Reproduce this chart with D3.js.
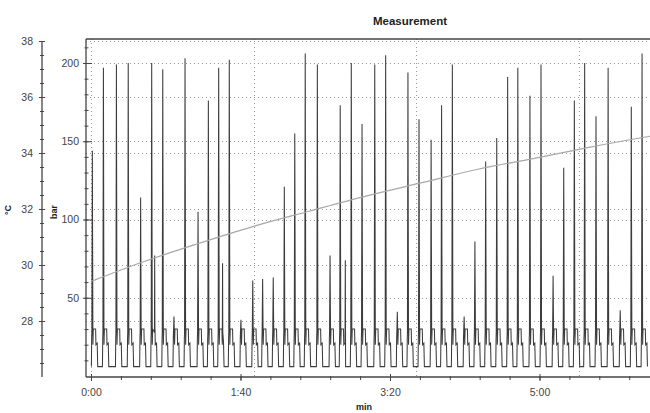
<!DOCTYPE html>
<html>
<head>
<meta charset="utf-8">
<script src="https://cdn.jsdelivr.net/npm/d3@7"></script>
<style>
  body { margin: 0; background: #fff; }
  svg { display: block; font-family: "Liberation Sans", Arial, sans-serif; }
</style>
</head>
<body>
<svg id="chart" width="650" height="413"></svg>
<script>
// pressure pulses: time of each pulse (s) and its spike height (bar)
var cycleTimes = [0.9, 8.3, 17.0, 24.9, 33.2, 40.6, 48.0, 55.5, 62.9, 71.6,
                  78.5, 85.4, 92.5, 100.3, 108.2, 114.8, 121.9, 129.3, 136.3, 143.3,
                  151.4, 159.9, 166.7, 174.1, 181.3, 189.8, 197.1, 204.9, 212.0, 219.4,
                  227.5, 234.5, 241.7, 249.6, 256.8, 264.0, 271.4, 278.7, 285.5, 293.6,
                  301.0, 309.1, 316.2, 323.3, 330.2, 337.8, 345.9, 354.0, 361.4, 368.6];
var cyclePeaks = [144, 197, 199, 200, 114, 200, 196, 38, 203, 105,
                  176, 197, 202, 36, 61, 62, 63, 121, 155, 206,
                  199, 77, 173, 200, 161, 199, 205, 41, 194, 164,
                  151, 173, 199, 38, 86, 137, 152, 191, 197, 179,
                  199, 64, 133, 176, 200, 166, 197, 42, 172, 206];
// a few smaller second spikes
var extraTimes = [42.6, 88.0, 170.1];
var extraPeaks = [77, 72, 74];
// outline of one pulse around its spike (offset s, bar); null = the spike
var pulseOffsets = [-0.65, -0.45, -0.33, 0, 0.38, 0.65, 2.2, 2.4, 3.25, 3.6];
var pulseLevels = [6, 24, 28, null, 20, 30, 30, 20, 21, 6];

// temperature (°C)
var tempTimes = [0.9, 33.2, 70.2, 109.3, 146.5, 183.9, 221.4, 258.9, 295.7, 333.8, 373.9];
var tempValues = [29.43, 30.08, 30.74, 31.39, 31.93, 32.46, 32.94, 33.42, 33.8, 34.21, 34.6];

var xTicks = [0, 100, 200, 300];
var xTickLabels = ["0:00", "1:40", "3:20", "5:00"];
var gridTimes = [0, 108.7, 217.4, 326.1];
var barTicks = [50, 100, 150, 200];
var tempTicks = [28, 30, 32, 34, 36, 38];

var plot = {left: 86, right: 650, top: 39, bottom: 377};
var ink = "#444";

var svg = d3.select("#chart");

var x = d3.scaleLinear().domain([0, 100]).range([91, 240.5]);
var yBar = d3.scaleLinear().domain([0, 200]).range([376, 63]);
var yC = d3.scaleLinear().domain([26, 38]).range([377, 41]);

svg.append("defs").append("clipPath").attr("id", "clip")
  .append("rect")
    .attr("x", plot.left).attr("y", plot.top)
    .attr("width", plot.right - plot.left).attr("height", plot.bottom - plot.top);

//Grid
var grid = svg.append("g")
  .style("stroke", "#999")
  .style("stroke-width", "1")
  .style("stroke-dasharray", "1,3");

grid.selectAll(".gx").data(gridTimes).enter().append("line")
  .attr("x1", function(d){ return Math.round(x(d)) + 0.5; })
  .attr("x2", function(d){ return Math.round(x(d)) + 0.5; })
  .attr("y1", plot.top).attr("y2", plot.bottom);
grid.selectAll(".gb").data(barTicks).enter().append("line")
  .attr("x1", plot.left).attr("x2", plot.right)
  .attr("y1", function(d){ return Math.round(yBar(d)) + 0.5; })
  .attr("y2", function(d){ return Math.round(yBar(d)) + 0.5; });
grid.selectAll(".gc").data(tempTicks).enter().append("line")
  .attr("x1", plot.left).attr("x2", plot.right)
  .attr("y1", function(d){ return Math.round(yC(d)) + 0.5; })
  .attr("y2", function(d){ return Math.round(yC(d)) + 0.5; });

//Build the pressure trace
var pts = [];
cycleTimes.forEach(function(t0, i){
  pulseOffsets.forEach(function(dt, j){
    pts.push([t0 + dt, pulseLevels[j] === null ? cyclePeaks[i] : pulseLevels[j]]);
  });
});
extraTimes.forEach(function(t, i){
  pts.push([t - 0.15, 28], [t, extraPeaks[i]], [t + 0.15, 28]);
});
pts.sort(function(a, b){ return a[0] - b[0]; });

var data = svg.append("g").attr("clip-path", "url(#clip)");

data.append("path")
  .datum(pts)
  .style("fill", "none")
  .style("stroke", "#3c3c3c")
  .style("stroke-width", "1.05")
  .attr("d", d3.line()
    .x(function(d){ return x(d[0]); })
    .y(function(d){ return yBar(d[1]); }));

data.append("path")
  .datum(d3.zip(tempTimes, tempValues))
  .style("fill", "none")
  .style("stroke", "#a8a8a8")
  .style("stroke-width", "1.2")
  .attr("d", d3.line().curve(d3.curveMonotoneX)
    .x(function(d){ return x(d[0]); })
    .y(function(d){ return yC(d[1]); }));

//Frame
var frame = svg.append("g").style("stroke", ink).style("stroke-width", "1.3");
frame.append("line").attr("x1", plot.left).attr("x2", plot.right).attr("y1", plot.top).attr("y2", plot.top);
frame.append("line").attr("x1", plot.left).attr("x2", plot.left).attr("y1", plot.top).attr("y2", plot.bottom);
frame.append("line").attr("x1", plot.left).attr("x2", plot.right).attr("y1", plot.bottom).attr("y2", plot.bottom);
frame.append("line").attr("x1", 42).attr("x2", 42).attr("y1", yC(38)).attr("y2", yC(26));

function styleAxis(g, fromX, toX){
  g.select(".domain").remove();
  g.selectAll(".tick line").attr("x1", toX).attr("x2", fromX).style("stroke", ink);
  g.selectAll("text").style("fill", "#444").style("font-size", "10.5px");
}

//Temperature axis
svg.append("g").attr("transform", "translate(42,0)")
  .call(d3.axisLeft(yC).tickValues(d3.range(26.5, 38.01, 0.5)).tickFormat("").tickSize(2))
  .call(styleAxis, -2, 2);
svg.append("g").attr("transform", "translate(42,0)")
  .call(d3.axisLeft(yC).tickValues(tempTicks).tickSize(3).tickPadding(6))
  .call(styleAxis, -3, 3);

//Pressure axis
svg.append("g").attr("transform", "translate(86,0)")
  .call(d3.axisLeft(yBar).tickValues(d3.range(10, 211, 10)).tickFormat("").tickSize(2))
  .call(styleAxis, -1.5, 2.5);
svg.append("g").attr("transform", "translate(86,0)")
  .call(d3.axisLeft(yBar).tickValues(barTicks).tickSize(3).tickPadding(4))
  .call(styleAxis, -3, 6);

//Time axis
var xa = svg.append("g").attr("transform", "translate(0," + plot.bottom + ")");
xa.call(d3.axisBottom(x).tickValues(d3.range(0, 361, 20)).tickFormat("").tickSize(3));
xa.select(".domain").remove();
xa.selectAll(".tick line").attr("y1", -1).style("stroke", ink);
var xm = svg.append("g").attr("transform", "translate(0," + plot.bottom + ")");
xm.call(d3.axisBottom(x).tickValues(xTicks)
  .tickFormat(function(d, i){ return xTickLabels[i]; }).tickSize(4).tickPadding(8));
xm.select(".domain").remove();
xm.selectAll(".tick line").attr("y1", -3).style("stroke", ink);
xm.selectAll("text").style("fill", "#444").style("font-size", "10.5px");

//Labels
svg.append("text")
  .attr("x", 410).attr("y", 25)
  .style("text-anchor", "middle").style("font-weight", "bold").style("font-size", "11.5px").style("fill", "#222")
  .text("Measurement");
svg.append("text")
  .attr("x", 364).attr("y", 410)
  .style("text-anchor", "middle").style("font-weight", "bold").style("font-size", "9px").style("fill", "#222")
  .text("min");
svg.append("text")
  .attr("transform", "translate(11,210) rotate(-90)")
  .style("text-anchor", "middle").style("font-weight", "bold").style("font-size", "9px").style("fill", "#222")
  .text("°C");
svg.append("text")
  .attr("transform", "translate(57,212) rotate(-90)")
  .style("text-anchor", "middle").style("font-weight", "bold").style("font-size", "9px").style("fill", "#222")
  .text("bar");
</script>
</body>
</html>
